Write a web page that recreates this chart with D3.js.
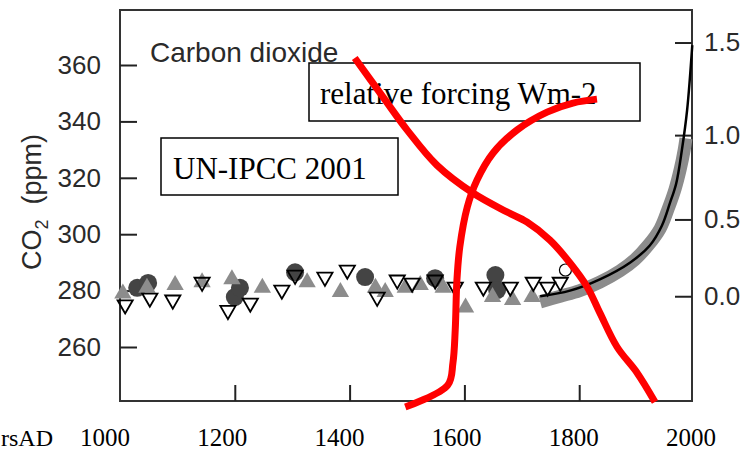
<!DOCTYPE html>
<html>
<head>
<meta charset="utf-8">
<script src="https://cdn.jsdelivr.net/npm/d3@7"></script>
<style>
body { margin: 0; background: #fff; }
svg { display: block; }
.sans { font-family: "Liberation Sans", Arial, sans-serif; fill: #2a2a2a; }
.serif { font-family: "Liberation Serif", "Times New Roman", serif; fill: #000; }
</style>
</head>
<body>
<svg width="753" height="451"></svg>
<script>
const ppmTicks = [260, 280, 300, 320, 340, 360];
const forcingTicks = [0.0, 0.5, 1.0, 1.5];
const yearTicks = [1200, 1400, 1600, 1800];
const yearLabels = [1000, 1200, 1400, 1600, 1800, 2000];

// ice core points, [year, ppm]
const upTriangles = [[1005, 279], [1047, 281], [1096, 282], [1143, 283], [1195, 284], [1248, 281],
    [1326, 283], [1384, 279.5], [1445, 281], [1462, 279.5], [1497, 281], [1523, 282], [1563, 281],
    [1602, 274], [1649, 277.7], [1684, 276.7], [1718, 277.7]];
const downTriangles = [[1009, 275], [1052, 277.4], [1092, 276.7], [1143, 283], [1188, 273], [1227, 275.6],
    [1282, 280.2], [1305, 285.5], [1357, 284.8], [1396, 287.3], [1448, 277.7], [1483, 283.8], [1509, 282.7],
    [1549, 283.8], [1584, 281.3], [1633, 281.3], [1680, 281.3], [1720, 283], [1745, 281.3], [1767, 283]];
const darkCircles = [[1030, 281], [1049, 282.7], [1200, 277.7], [1209, 281], [1305, 286.5], [1427, 284.8],
    [1549, 284.4], [1654, 285.5], [1657, 280.2]];
const openCircles = [[1776, 287.3]];

// Law Dome band and the firn / Mauna Loa line
const bandPoints = [[1732, 276], [1767, 278], [1801, 280], [1836, 283], [1871, 287], [1897, 291], [1920, 296],
    [1941, 302], [1955, 309], [1967, 316], [1976, 323], [1983, 330], [1986, 334]];
const blackLine = [[1732, 278], [1784, 280], [1836, 284], [1889, 290], [1923, 296], [1944, 303], [1958, 311],
    [1969, 318], [1979, 330], [1988, 344], [1997, 367]];

// hand drawn red overlays
const redFalling = [[1409, 362.5], [1458, 348.7], [1500, 337], [1552, 324.5], [1615, 314.6], [1674, 307.9],
    [1709, 304.3], [1749, 297.9], [1784, 289.8], [1814, 281.3], [1836, 272.1], [1866, 260], [1901, 250.8], [1932, 240.5]];
const redRising = [[1497, 238.7], [1571, 246.5], [1580, 254.3], [1584, 266], [1587, 283.8], [1592, 295.5],
    [1605, 309.6], [1622, 319.2], [1650, 328.8], [1692, 337], [1744, 343.3], [1789, 346.5], [1831, 347.9]];

const svg = d3.select('svg');
const x = d3.scaleLinear().domain([1000, 2000]).range([120, 694]);
const xLabel = d3.scaleLinear().domain([1000, 2000]).range([105, 691]);
const y = d3.scaleLinear().domain([260, 360]).range([347, 65]);
const toPpm = f => 278 * Math.exp(f / 5.35);
const toForcing = c => 5.35 * Math.log(c / 278);

function styleAxis(g) {
    g.select('.domain').remove();
    g.selectAll('line').attr('stroke', '#222').attr('stroke-width', 2);
    g.selectAll('text').attr('class', 'sans').style('font-size', '26px');
}

svg.append('rect')
    .attr('x', 120).attr('y', 10)
    .attr('width', 572).attr('height', 391)
    .attr('fill', 'none')
    .attr('stroke', '#333')
    .attr('stroke-width', 2);

svg.append('g')
    .attr('transform', 'translate(120,0)')
    .call(d3.axisLeft(y).tickValues(ppmTicks).tickSize(-17).tickPadding(19).tickFormat(d3.format('d')))
    .call(styleAxis);

svg.append('g')
    .attr('transform', 'translate(692,0)')
    .call(d3.axisRight(y).tickValues(forcingTicks.map(toPpm)).tickSize(-17).tickPadding(12)
        .tickFormat(d => toForcing(d).toFixed(1)))
    .call(styleAxis);

svg.append('g')
    .attr('transform', 'translate(0,401)')
    .call(d3.axisBottom(x).tickValues(yearTicks).tickSize(-16).tickFormat(''))
    .call(styleAxis);

svg.selectAll('.yearLabel')
    .data(yearLabels)
    .join('text')
    .attr('class', 'serif')
    .attr('x', d => xLabel(d))
    .attr('y', 446)
    .attr('text-anchor', 'middle')
    .style('font-size', '25px')
    .text(d => d);

// only the tail of the axis name is visible in the picture
svg.append('text')
    .attr('class', 'serif')
    .attr('x', 1).attr('y', 446)
    .style('font-size', '24px')
    .text('rsAD');

// y axis title, CO2 with subscript
let yTitle = svg.append('text')
    .attr('class', 'sans')
    .attr('transform', 'translate(41,202) rotate(-90)')
    .attr('text-anchor', 'middle')
    .style('font-size', '27px')
    .style('white-space', 'pre');
yTitle.append('tspan').text('CO');
yTitle.append('tspan').attr('dy', 7).style('font-size', '18px').text('2');
yTitle.append('tspan').attr('dy', -7).text('  (ppm)');

svg.append('text')
    .attr('class', 'sans')
    .attr('x', 150).attr('y', 62)
    .style('font-size', '28px')
    .text('Carbon dioxide');

// ice core and instrumental record
let line = d3.line().x(d => x(d[0])).y(d => y(d[1])).curve(d3.curveCatmullRom.alpha(0.5));

svg.append('path')
    .attr('d', line(bandPoints))
    .attr('fill', 'none')
    .attr('stroke', '#8c8c8c')
    .attr('stroke-width', 13)
    .attr('stroke-linejoin', 'round');

svg.append('path')
    .attr('d', line(blackLine))
    .attr('fill', 'none')
    .attr('stroke', '#000')
    .attr('stroke-width', 2.5);

svg.selectAll('.dark')
    .data(darkCircles)
    .join('circle')
    .attr('cx', d => x(d[0]))
    .attr('cy', d => y(d[1]))
    .attr('r', 9)
    .attr('fill', '#444');

svg.selectAll('.up')
    .data(upTriangles)
    .join('path')
    .attr('d', d3.symbol().type(d3.symbolTriangle).size(130))
    .attr('transform', d => `translate(${x(d[0])},${y(d[1])})`)
    .attr('fill', '#8c8c8c');

svg.selectAll('.down')
    .data(downTriangles)
    .join('path')
    .attr('d', d3.symbol().type(d3.symbolTriangle).size(100))
    .attr('transform', d => `translate(${x(d[0])},${y(d[1])}) rotate(180)`)
    .attr('fill', 'none')
    .attr('stroke', '#000')
    .attr('stroke-width', 1.8);

svg.selectAll('.open')
    .data(openCircles)
    .join('circle')
    .attr('cx', d => x(d[0]))
    .attr('cy', d => y(d[1]))
    .attr('r', 6)
    .attr('fill', '#fff')
    .attr('stroke', '#000')
    .attr('stroke-width', 1.2);

// pasted labels
function labelBox(bx, by, bw, bh, tx, ty, label) {
    svg.append('rect')
        .attr('x', bx).attr('y', by)
        .attr('width', bw).attr('height', bh)
        .attr('fill', '#fff')
        .attr('stroke', '#000')
        .attr('stroke-width', 1.5);
    svg.append('text')
        .attr('class', 'serif')
        .attr('x', tx).attr('y', ty)
        .style('font-size', '31px')
        .text(label);
}
labelBox(309, 63, 331, 58, 320, 104, 'relative forcing Wm-2');
labelBox(161, 138, 237, 57, 173, 179, 'UN-IPCC 2001');

for (let curve of [redFalling, redRising]) {
    svg.append('path')
        .attr('d', line(curve))
        .attr('fill', 'none')
        .attr('stroke', '#ff0000')
        .attr('stroke-width', 7);
}
</script>
</body>
</html>
